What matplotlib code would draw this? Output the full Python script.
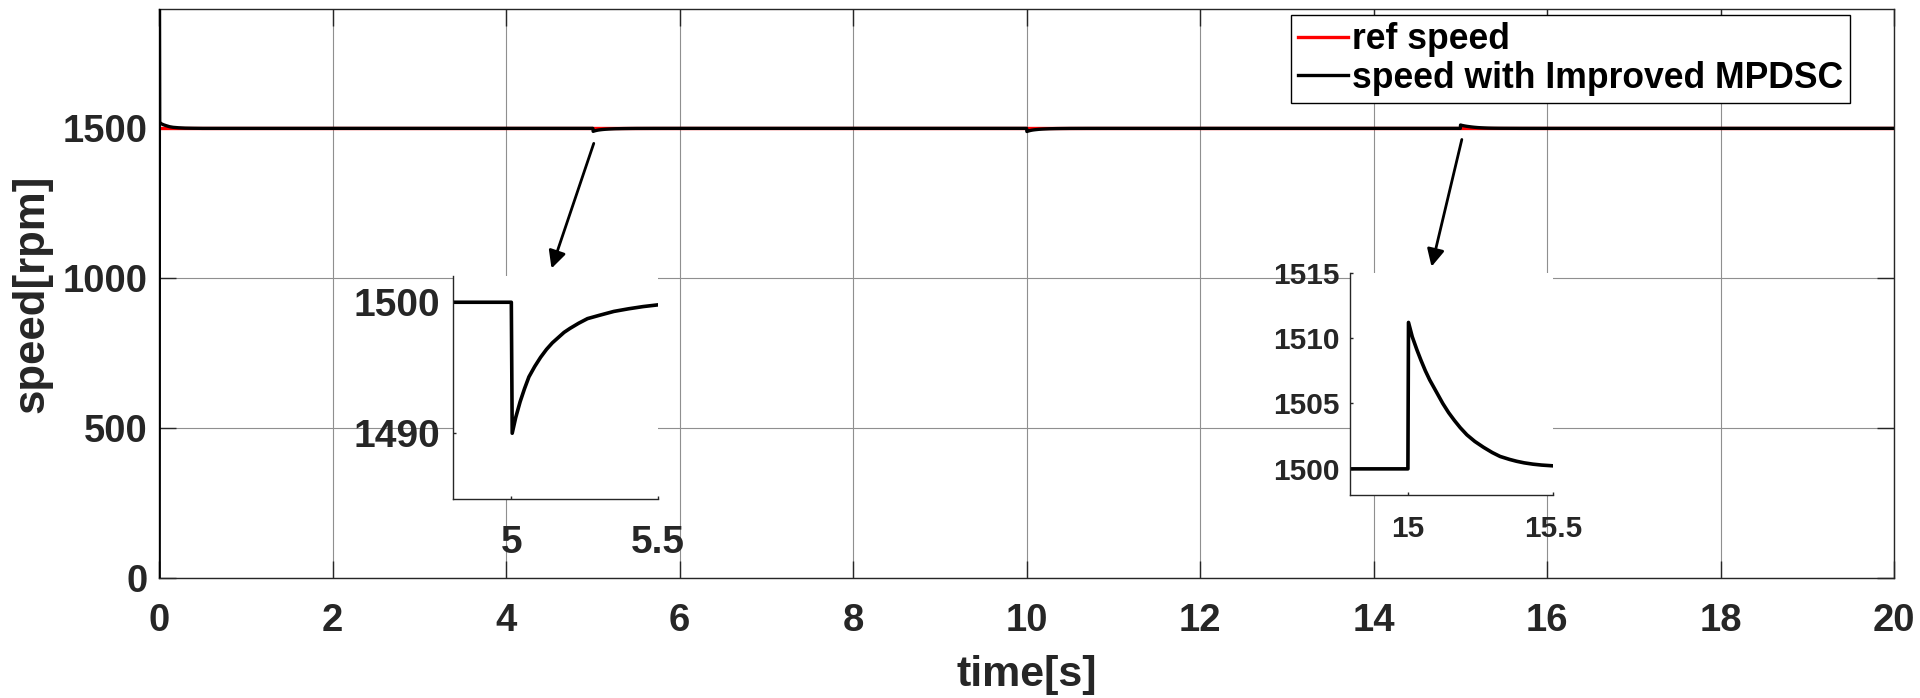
import matplotlib
matplotlib.use("Agg")
import matplotlib.pyplot as plt

plt.rcParams['font.family'] = ['Liberation Sans', 'DejaVu Sans']
plt.rcParams['font.weight'] = 'bold'

# ---------------- data ----------------
ref_t = [0.0, 20.0]
ref_v = [1500.0, 1500.0]

# start-up transient
start_t = [0.0, 0.003, 0.006, 0.02, 0.05, 0.08, 0.12, 0.16, 0.22, 0.30, 0.40, 0.50]
start_v = [0.0, 1897.0, 1519.0, 1516.0, 1512.0, 1509.0, 1505.5, 1503.5, 1502.0, 1500.8, 1500.3, 1500.0]

# load step at 5 s (speed dip)
dip5_t = [5.0, 5.003, 5.015, 5.03, 5.045, 5.06, 5.08, 5.10, 5.12, 5.14, 5.16, 5.18, 5.20,
          5.23, 5.26, 5.30, 5.35, 5.40, 5.45, 5.50, 5.70, 6.00]
dip5_v = [1500.0, 1490.0, 1491.2, 1492.4, 1493.4, 1494.3, 1495.1, 1495.8, 1496.4, 1496.9,
          1497.3, 1497.7, 1498.0, 1498.4, 1498.75, 1499.0, 1499.3, 1499.5, 1499.67, 1499.8,
          1499.95, 1500.0]

# load step at 10 s (speed dip)
dip10_t = [10.0, 10.003, 10.015, 10.03, 10.045, 10.06, 10.08, 10.10, 10.12, 10.14, 10.16,
           10.18, 10.20, 10.23, 10.26, 10.30, 10.35, 10.40, 10.45, 10.50, 10.70, 11.00]
dip10_v = [1500.0, 1489.5, 1490.8, 1492.0, 1493.1, 1494.0, 1494.9, 1495.6, 1496.2, 1496.8,
           1497.2, 1497.6, 1497.9, 1498.3, 1498.7, 1499.0, 1499.3, 1499.5, 1499.65, 1499.8,
           1499.95, 1500.0]

# load removal at 15 s (speed overshoot)
rise_t = [15.0, 15.002, 15.015, 15.031, 15.045, 15.06, 15.075, 15.09, 15.105, 15.12, 15.14,
          15.16, 15.18, 15.203, 15.23, 15.26, 15.29, 15.317, 15.35, 15.374, 15.40, 15.43,
          15.46, 15.50, 15.70, 16.00]
rise_v = [1500.0, 1511.2, 1510.1, 1509.1, 1508.3, 1507.5, 1506.8, 1506.2, 1505.6, 1505.0,
          1504.3, 1503.7, 1503.15, 1502.6, 1502.1, 1501.65, 1501.25, 1500.95, 1500.72,
          1500.58, 1500.46, 1500.36, 1500.29, 1500.23, 1500.05, 1500.0]

end_t = [20.0]
end_v = [1500.0]

spd_t = start_t + dip5_t + dip10_t + rise_t + end_t
spd_v = start_v + dip5_v + dip10_v + rise_v + end_v

x_ticks = [0, 2, 4, 6, 8, 10, 12, 14, 16, 18, 20]
y_ticks = [0, 500, 1000, 1500]
in1_xticks = [5, 5.5]
in1_yticks = [1490, 1500]
in2_xticks = [15, 15.5]
in2_yticks = [1500, 1505, 1510, 1515]

labels = ['ref speed', 'speed with Improved MPDSC']

# ---------------- figure ----------------
dark = '#262626'
fig = plt.figure(figsize=(19.2, 6.98), dpi=100)
ax = fig.add_axes([0.0829, 0.1715, 0.9036, 0.8152])

ax.plot(ref_t, ref_v, color='#ff0000', lw=2.4, label=labels[0], zorder=3)
ax.plot(spd_t, spd_v, color='black', lw=2.4, label=labels[1], zorder=4)

ax.set_xlim(0, 20)
ax.set_ylim(0, 1897)
ax.set_xticks(x_ticks)
ax.set_yticks(y_ticks)
ax.set_xticklabels([str(v) for v in x_ticks])
ax.set_yticklabels([str(v) for v in y_ticks])
ax.grid(True, color='#8f8f8f', lw=0.8)
ax.set_axisbelow(True)
for s in ax.spines.values():
    s.set_color(dark)
    s.set_linewidth(1.0)
ax.tick_params(axis='both', direction='in', length=12, width=1.0, color=dark,
               labelcolor=dark, labelsize=27.5, top=True, right=True)
ax.tick_params(axis='x', pad=17.5)
ax.tick_params(axis='y', pad=8.5)
for lab in ax.get_xticklabels() + ax.get_yticklabels():
    lab.set_fontweight('bold')

ax.set_xlabel('time[s]', fontsize=31, fontweight='bold', color=dark, va='top')
ax.set_ylabel('speed[rpm]', fontsize=31.5, fontweight='bold', color=dark)
ax.xaxis.set_label_coords(0.5, -0.1348)
ax.yaxis.set_label_coords(-0.0617, 0.5)

leg = ax.legend(loc='upper right', bbox_to_anchor=(0.9748, 0.9895), borderaxespad=0,
                fontsize=25.6, frameon=True, fancybox=False, framealpha=1,
                edgecolor='black', handlelength=1.4, handletextpad=0.12,
                labelspacing=0.1, borderpad=0.2)
leg.get_frame().set_linewidth(1.0)
for t in leg.get_texts():
    t.set_fontweight('bold')
    t.set_color('black')

# arrows
arrow_kw = dict(arrowstyle='-|>', color='black', lw=2.0, mutation_scale=26,
                shrinkA=0, shrinkB=0)
ax.annotate('', xy=(4.523, 1033), xytext=(5.010, 1450), arrowprops=arrow_kw, zorder=6)
ax.annotate('', xy=(14.668, 1039), xytext=(15.017, 1463), arrowprops=arrow_kw, zorder=6)

# ---------------- insets ----------------
def style_inset(a, fs, xpad, ypad):
    a.set_facecolor('white')
    a.spines['top'].set_visible(False)
    a.spines['right'].set_visible(False)
    for s in ('left', 'bottom'):
        a.spines[s].set_color(dark)
        a.spines[s].set_linewidth(1.0)
    a.tick_params(axis='both', direction='in', length=2, width=1.0, color=dark,
                  labelcolor=dark, labelsize=fs)
    a.tick_params(axis='x', pad=xpad)
    a.tick_params(axis='y', pad=ypad)
    for lab in a.get_xticklabels() + a.get_yticklabels():
        lab.set_fontweight('bold')

ax1 = fig.add_axes([0.2358, 0.2855, 0.1068, 0.319])
ax1.plot(spd_t, spd_v, color='black', lw=2.6, solid_joinstyle='round')
ax1.set_xlim(4.8, 5.5)
ax1.set_ylim(1485, 1502)
ax1.set_xticks(in1_xticks)
ax1.set_xticklabels(['5', '5.5'])
ax1.set_yticks(in1_yticks)
ax1.set_yticklabels([str(v) for v in in1_yticks])
style_inset(ax1, 28, 19, 8.8)

ax2 = fig.add_axes([0.703, 0.2908, 0.106, 0.3185])
ax2.plot(spd_t, spd_v, color='black', lw=2.6, solid_joinstyle='round')
ax2.set_xlim(14.8, 15.5)
ax2.set_ylim(1498, 1515)
ax2.set_xticks(in2_xticks)
ax2.set_xticklabels(['15', '15.5'])
ax2.set_yticks(in2_yticks)
ax2.set_yticklabels([str(v) for v in in2_yticks])
style_inset(ax2, 21.5, 14.4, 7.3)

fig.savefig('out.png', dpi=100)
